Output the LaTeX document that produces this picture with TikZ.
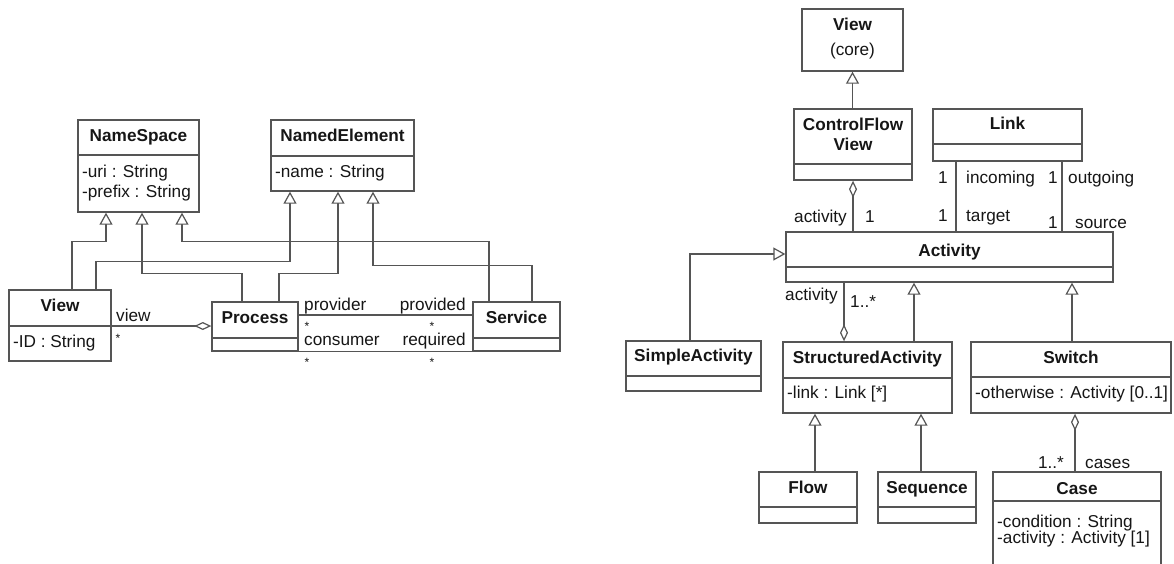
\documentclass[tikz,border=0pt]{standalone}
\usepackage{fontspec}
\setmainfont{Liberation Sans}
\usetikzlibrary{arrows.meta,fit}

\definecolor{umlline}{HTML}{555555}
\definecolor{umltext}{HTML}{161616}

\tikzset{
  classbox/.style={draw=umlline, line width=1.4pt, inner sep=0pt, fill=white},
  rule/.style={draw=umlline, line width=1.4pt},
  title/.style={font=\fontsize{17.2}{20}\selectfont\bfseries, text=umltext, inner sep=0pt, anchor=base},
  attr/.style={font=\fontsize{17.2}{20}\selectfont, text=umltext, inner sep=0pt, anchor=base west},
  role/.style={font=\fontsize{17.2}{20}\selectfont, text=umltext, inner sep=0pt},
  many/.style={font=\fontsize{12}{14}\selectfont, text=umltext, inner sep=0pt},
  gen/.style={draw=umlline, line width=1.4pt,
    -{Triangle[length=12pt, width=13pt, fill=white, line width=1.2pt]}},
  agg/.style={draw=umlline, line width=1.4pt,
    {Diamond[length=17pt, width=8pt, fill=white, line width=1.2pt]}-},
  assoc/.style={draw=umlline, line width=1.4pt},
}

% class box: name, left, top, right, bottom (y grows downward)
\newcommand\umlclass[5]{\node[classbox, fit={(#2,#3) (#4,#5)}] (#1) {};}
% compartment separator of a class at height y
\newcommand\umlsep[2]{\draw[rule] (#1.west |- 0,#2) -- (#1.east |- 0,#2);}

\begin{document}
\begin{tikzpicture}[x=1pt, y=-1pt]
\fill[white] (0,0) rectangle (1174,563);
\useasboundingbox (0,0) rectangle (1174,563);
\clip (0,0) rectangle (1174,563);

% ---------------- left model: namespaces and services ----------------
\umlclass{namespace}{78}{120}{199}{212}
\umlsep{namespace}{155}
\node[title] (namespace-t) at (138.5,141) {NameSpace};
\node[attr] (namespace-a1) at (82,177) {-uri : String};
\node[attr] (namespace-a2) at (82,197) {-prefix : String};

\umlclass{namedelement}{271}{120}{414}{191}
\umlsep{namedelement}{156}
\node[title] (namedelement-t) at (342.5,141) {NamedElement};
\node[attr] (namedelement-a1) at (275,177) {-name : String};

\umlclass{view}{9}{290}{111}{361}
\umlsep{view}{326}
\node[title] (view-t) at (60,311) {View};
\node[attr] (view-a1) at (13,347) {-ID : String};

\umlclass{process}{212}{302}{298}{351}
\umlsep{process}{338}
\node[title] (process-t) at (255,323) {Process};

\umlclass{service}{473}{302}{560}{351}
\umlsep{service}{338}
\node[title] (service-t) at (516.5,323) {Service};

% generalizations
\draw[gen] (view.north -| 72,0) -- ++(0,-48) -| (namespace.south -| 106,0);
\draw[gen] (view.north -| 96,0) -- ++(0,-28) -| (namedelement.south -| 290,0);
\draw[gen] (process.north -| 242,0) -- ++(0,-28) -| (namespace.south -| 142,0);
\draw[gen] (process.north -| 279,0) -- ++(0,-28) -| (namedelement.south -| 338,0);
\draw[gen] (service.north -| 489,0) -- ++(0,-60) -| (namespace.south -| 182,0);
\draw[gen] (service.north -| 532,0) -- ++(0,-36) -| (namedelement.south -| 373,0);

% associations
\draw[agg] (process.west |- 0,326) -- (view.east |- 0,326);
\node[role, anchor=base west] (r-view) at (116,321) {view};
\node[many] (r-view-m) at (118,338) {*};

\draw[assoc] (process.east |- 0,315) -- (service.west |- 0,315);
\draw[assoc] (process.south east) -- (service.south west);
\node[role, anchor=base west] (r-provider) at (304,310) {provider};
\node[role, anchor=base east] (r-provided) at (466,310) {provided};
\node[many] (r-provider-m) at (307,326) {*};
\node[many] (r-provided-m) at (432,326) {*};
\node[role, anchor=base west] (r-consumer) at (304,345) {consumer};
\node[role, anchor=base east] (r-required) at (466,345) {required};
\node[many] (r-consumer-m) at (307,362) {*};
\node[many] (r-required-m) at (432,362) {*};

% ---------------- right model: control flow view ----------------
\umlclass{viewcore}{802}{9}{903}{71}
\node[title] (viewcore-t) at (852.5,30) {View};
\node[role, anchor=base] (viewcore-s) at (852.5,55) {(core)};

\umlclass{cfv}{794}{109}{912}{180}
\umlsep{cfv}{164}
\node[title] (cfv-t1) at (853,130) {ControlFlow};
\node[title] (cfv-t2) at (853,150) {View};

\umlclass{link}{933}{109}{1082}{161}
\umlsep{link}{144}
\node[title] (link-t) at (1007.5,129) {Link};

\umlclass{activity}{786}{232}{1113}{282}
\umlsep{activity}{267}
\node[title] (activity-t) at (949.5,256) {Activity};

\umlclass{simple}{626}{341}{761}{391}
\umlsep{simple}{376}
\node[title] (simple-t) at (693.5,361) {SimpleActivity};

\umlclass{structured}{783}{342}{952}{413}
\umlsep{structured}{378}
\node[title] (structured-t) at (867.5,363) {StructuredActivity};
\node[attr] (structured-a1) at (787,398) {-link : Link [*]};

\umlclass{switch}{971}{342}{1171}{413}
\umlsep{switch}{377}
\node[title] (switch-t) at (1071,363) {Switch};
\node[attr] (switch-a1) at (975,398) {-otherwise : Activity [0..1]};

\umlclass{flow}{759}{472}{857}{523}
\umlsep{flow}{507}
\node[title] (flow-t) at (808,493) {Flow};

\umlclass{sequence}{878}{472}{976}{523}
\umlsep{sequence}{507}
\node[title] (sequence-t) at (927,493) {Sequence};

\umlclass{case}{993}{472}{1161}{585}
\umlsep{case}{501}
\node[title] (case-t) at (1077,494) {Case};
\node[attr] (case-a1) at (997,527) {-condition : String};
\node[attr] (case-a2) at (997,543) {-activity : Activity [1]};

% generalizations
\draw[gen] (cfv.north -| 852.5,0) -- (viewcore.south -| 852.5,0);
\draw[gen] (simple.north -| 690,0) |- (activity.west |- 0,254);
\draw[gen] (structured.north -| 914,0) -- (activity.south -| 914,0);
\draw[gen] (switch.north -| 1072,0) -- (activity.south -| 1072,0);
\draw[gen] (flow.north -| 815,0) -- (structured.south -| 815,0);
\draw[gen] (sequence.north -| 921,0) -- (structured.south -| 921,0);

% aggregations
\draw[agg] (cfv.south -| 853,0) -- (activity.north -| 853,0);
\node[role, anchor=base east] (r-cfv-act) at (847,222) {activity};
\node[role, anchor=base west] (r-cfv-act-m) at (865,222) {1};

\draw[agg] (structured.north -| 844,0) -- (activity.south -| 844,0);
\node[role, anchor=base east] (r-sa-act) at (838,300) {activity};
\node[role, anchor=base west] (r-sa-act-m) at (850,307) {1..*};

\draw[agg] (switch.south -| 1075,0) -- (case.north -| 1075,0);
\node[role, anchor=base east] (r-cases-m) at (1064,468) {1..*};
\node[role, anchor=base west] (r-cases) at (1085,468) {cases};

% link ends
\draw[assoc] (link.south -| 956,0) -- (activity.north -| 956,0);
\draw[assoc] (link.south -| 1062,0) -- (activity.north -| 1062,0);
\node[role, anchor=base] (r-in-m) at (943,183) {1};
\node[role, anchor=base west] (r-in) at (966,183) {incoming};
\node[role, anchor=base] (r-out-m) at (1053,183) {1};
\node[role, anchor=base west] (r-out) at (1068,183) {outgoing};
\node[role, anchor=base] (r-tgt-m) at (943,221) {1};
\node[role, anchor=base west] (r-tgt) at (966,221) {target};
\node[role, anchor=base] (r-src-m) at (1053,228) {1};
\node[role, anchor=base west] (r-src) at (1075,228) {source};
\end{tikzpicture}
\end{document}
